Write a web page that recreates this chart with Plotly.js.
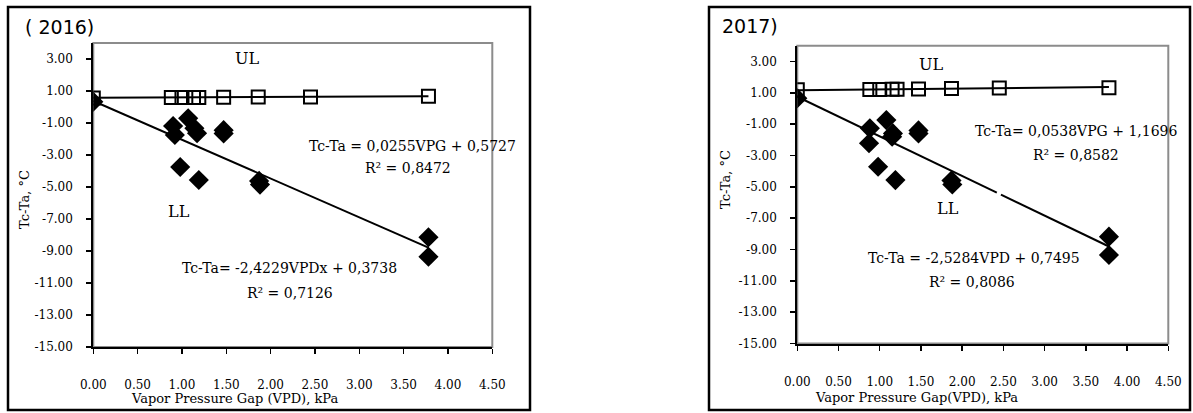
<!DOCTYPE html>
<html>
<head>
<meta charset="utf-8">
<script src="https://cdn.plot.ly/plotly-3.0.1.min.js"></script>
<style>html,body{margin:0;padding:0;background:#fff;}#chart{width:1193px;height:413px;}</style>
</head>
<body>
<div id="chart"></div>
<script>
// ---------- 2016 data ----------
const ul2016_x = [0.00, 0.88, 1.00, 1.13, 1.19, 1.47, 1.86, 2.45, 3.78];
const ul2016_y = [0.57, 0.60, 0.60, 0.60, 0.60, 0.61, 0.62, 0.63, 0.67];
const ll2016_x = [0.00, 0.90, 0.92, 1.07, 1.14, 1.17, 0.98, 1.19, 1.47, 1.47, 1.87, 1.88, 3.78, 3.78];
const ll2016_y = [0.33, -1.19, -1.75, -0.71, -1.33, -1.64, -3.75, -4.56, -1.45, -1.65, -4.62, -4.85, -8.14, -9.36];
const fitUL2016 = [0.0255, 0.5727];   // slope, intercept
const fitLL2016 = [-2.4229, 0.3738];
// ---------- 2017 data ----------
const ul2017_x = [0.00, 0.88, 1.00, 1.15, 1.21, 1.47, 1.87, 2.45, 3.78];
const ul2017_y = [1.20, 1.21, 1.21, 1.22, 1.22, 1.24, 1.27, 1.30, 1.33];
const ll2017_x = [0.00, 0.88, 0.87, 1.08, 1.16, 1.15, 0.98, 1.19, 1.47, 1.47, 1.87, 1.88, 3.78, 3.78];
const ll2017_y = [0.65, -1.27, -2.22, -0.74, -1.59, -1.80, -3.72, -4.57, -1.40, -1.60, -4.60, -4.85, -8.18, -9.35];
const fitUL2017 = [0.0538, 1.1696];
const fitLL2017 = [-2.5284, 0.7495];
const fitRange = [0, 3.78];
const fitRangeBroken = [0, 2.42, null, 2.47, 3.78];   // 2017 LL line has a small break

const xTicks = [0, 0.5, 1, 1.5, 2, 2.5, 3, 3.5, 4, 4.5];
const xTickText = ["0.00","0.50","1.00","1.50","2.00","2.50","3.00","3.50","4.00","4.50"];
const yTicks = [-15, -13, -11, -9, -7, -5, -3, -1, 1, 3];
const yTickText = ["-15.00","-13.00","-11.00","-9.00","-7.00","-5.00","-3.00","-1.00","1.00","3.00"];

const W = 1193, H = 413;
const fx = p => p / W;
const fy = p => 1 - p / H;
const SERIF = "DejaVu Serif, Liberation Serif, serif";
const SANS = "DejaVu Sans, Liberation Sans, Arial, sans-serif";

function fitLine(fit, xa, ya, xr) {
  const xs = xr || fitRange;
  return {x: xs, y: xs.map(v => v === null ? null : fit[0] * v + fit[1]), xaxis: xa, yaxis: ya,
    mode: 'lines', connectgaps: false, line: {color: '#000', width: 2}, hoverinfo: 'skip', showlegend: false};
}
function diamonds(x, y, xa, ya) {
  return {x: x, y: y, xaxis: xa, yaxis: ya, mode: 'markers', showlegend: false,
    marker: {symbol: 'diamond', size: 15.5, color: '#000'}};
}
function squares(x, y, xa, ya) {
  return {x: x, y: y, xaxis: xa, yaxis: ya, mode: 'markers', showlegend: false,
    marker: {symbol: 'square-open', size: 13, color: '#000', line: {width: 2, color: '#000'}}};
}

const traces = [
  fitLine(fitLL2016, 'x', 'y'), fitLine(fitUL2016, 'x', 'y'),
  diamonds(ll2016_x, ll2016_y, 'x', 'y'), squares(ul2016_x, ul2016_y, 'x', 'y'),
  fitLine(fitLL2017, 'x2', 'y2', fitRangeBroken), fitLine(fitUL2017, 'x2', 'y2'),
  diamonds(ll2017_x, ll2017_y, 'x2', 'y2'), squares(ul2017_x, ul2017_y, 'x2', 'y2')
];

function xAxis(domain, anchor) {
  return {domain: domain, anchor: anchor, range: [0, 4.5], tickvals: xTicks, ticktext: xTickText,
    ticks: 'outside', ticklen: 5, tickwidth: 1.5, tickcolor: '#000', showgrid: false, zeroline: false,
    showline: true, linecolor: '#000', linewidth: 2, ticklabelstandoff: 21,
    tickfont: {family: SERIF, size: 12, color: '#000'}, fixedrange: true};
}
function yAxis(domain, anchor) {
  return {domain: domain, anchor: anchor, range: [-15, 4], tickvals: yTicks, ticktext: yTickText,
    ticks: 'outside', ticklen: 5, tickwidth: 1.5, tickcolor: '#000', showgrid: false, zeroline: false,
    showline: true, linecolor: '#000', linewidth: 2, ticklabelstandoff: 11,
    tickfont: {family: SERIF, size: 12, color: '#000'}, fixedrange: true};
}

function ann(text, px, py, size, family, extra) {
  return Object.assign({text: text, x: fx(px), y: fy(py), xref: 'paper', yref: 'paper',
    xanchor: 'center', yanchor: 'middle', showarrow: false,
    font: {family: family || SERIF, size: size || 13, color: '#000'}}, extra || {});
}

const annotations = [
  ann('( 2016)', 60, 27, 19, SANS),
  ann('2017)', 750, 26, 19, SANS),
  ann('UL', 247, 59, 16), ann('LL', 179, 211, 16),
  ann('UL', 931, 65, 16), ann('LL', 948, 208, 16),
  ann('Tc-Ta = 0,0255VPG + 0,5727', 412, 146, 14),
  ann('R² = 0,8472', 408, 168, 14),
  ann('Tc-Ta= -2,4229VPDx + 0,3738', 289, 268, 14),
  ann('R² = 0,7126', 290, 293, 14),
  ann('Tc-Ta= 0,0538VPG + 1,1696', 1076, 131, 14),
  ann('R² = 0,8582', 1076, 155, 14),
  ann('Tc-Ta = -2,5284VPD + 0,7495', 974, 258, 14),
  ann('R² = 0,8086', 972, 282, 14),
  ann('Vapor Pressure Gap (VPD), kPa', 235, 398, 13),
  ann('Vapor Pressure Gap(VPD), kPa', 916, 397, 13),
  ann('Tc-Ta, °C', 25, 200, 13, SERIF, {textangle: -90}),
  ann('Tc-Ta, °C', 725, 180, 13, SERIF, {textangle: -90})
];

const shapes = [
  // outer frames
  {type: 'rect', xref: 'paper', yref: 'paper', x0: fx(8), x1: fx(530), y0: fy(410), y1: fy(7),
   line: {color: '#000', width: 2.5}, layer: 'below'},
  {type: 'rect', xref: 'paper', yref: 'paper', x0: fx(709), x1: fx(1190), y0: fy(410), y1: fy(7),
   line: {color: '#000', width: 2.5}, layer: 'below'},
  // plot area borders (gray top/right)
  {type: 'rect', xref: 'x domain', yref: 'y domain', x0: 0, x1: 1, y0: 0, y1: 1,
   line: {color: '#8c8c8c', width: 2}, layer: 'below'},
  {type: 'rect', xref: 'x2 domain', yref: 'y2 domain', x0: 0, x1: 1, y0: 0, y1: 1,
   line: {color: '#8c8c8c', width: 2}, layer: 'below'}
];

const layout = {
  width: W, height: H, margin: {l: 0, r: 0, t: 0, b: 0},
  paper_bgcolor: '#fff', plot_bgcolor: 'rgba(0,0,0,0)', showlegend: false,
  xaxis: xAxis([fx(93.3), fx(492.3)], 'y'),
  yaxis: yAxis([fy(347), fy(43)], 'x'),
  xaxis2: xAxis([fx(797.3), fx(1168.3)], 'y2'),
  yaxis2: yAxis([fy(343.5), fy(45.8)], 'x2'),
  annotations: annotations, shapes: shapes
};

Plotly.newPlot('chart', traces, layout, {staticPlot: true, displayModeBar: false});
</script>
</body>
</html>
